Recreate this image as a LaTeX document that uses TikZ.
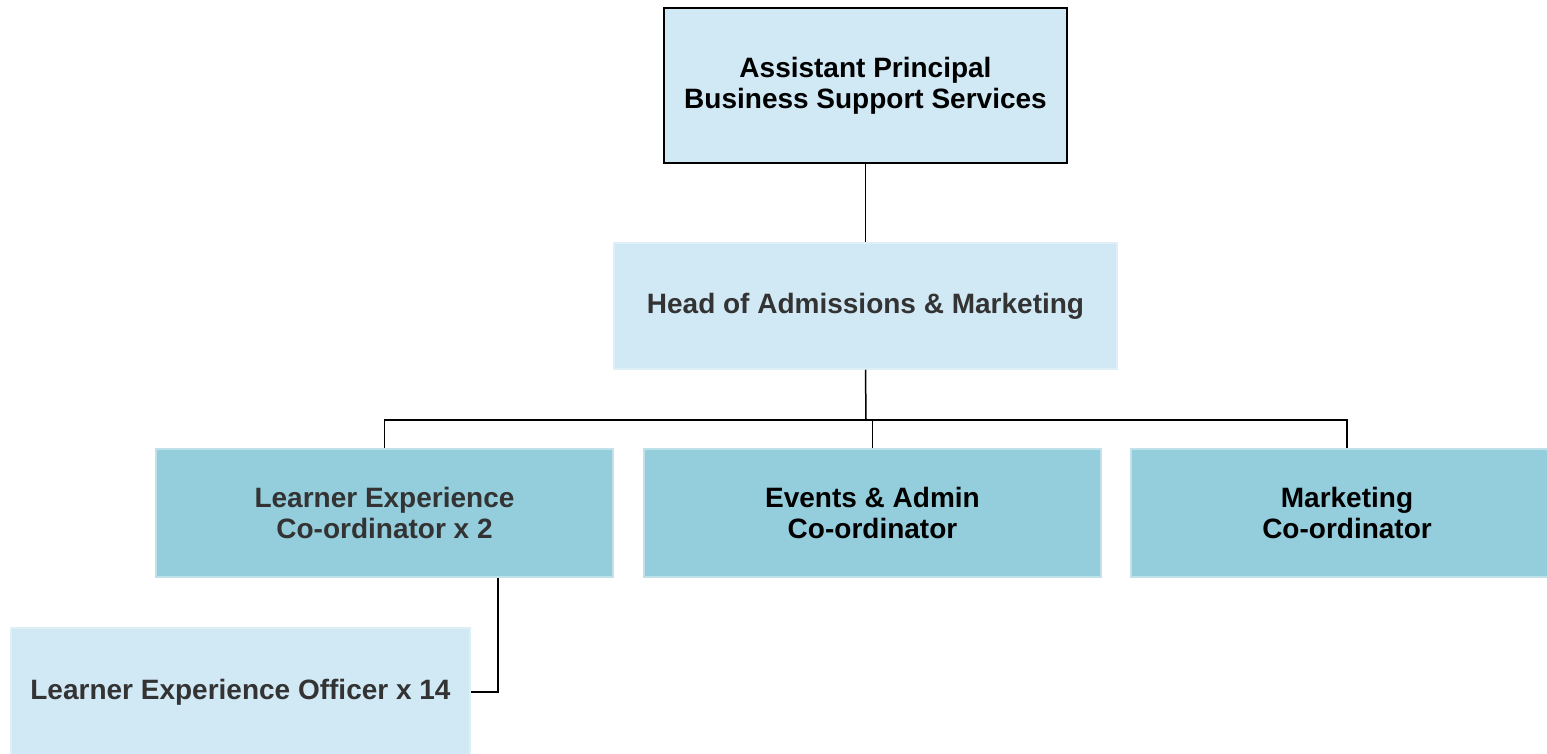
\documentclass[tikz,border=0pt]{standalone}
\usepackage{fontspec}
\setmainfont{Liberation Sans}
\definecolor{paleblue}{HTML}{D1E8F5}
\definecolor{tealblue}{HTML}{94CDDC}
\definecolor{darktext}{HTML}{333333}

\begin{document}
\begin{tikzpicture}[x=0.5pt, y=-0.5pt, line width=0.75pt]
    \tikzstyle{role}=[align=center, font=\fontsize{14}{15.5}\selectfont\bfseries,
      inner sep=0pt, minimum height=64pt]
    \tikzstyle{senior}=[role, fill=paleblue, draw=paleblue!70!white]
    \tikzstyle{coord}=[role, fill=tealblue, draw=tealblue!60!white,
      minimum width=228.5pt]
    \useasboundingbox (0,0) rectangle (1547,754);
    \clip (0,0) rectangle (1547,754);
    \draw (865.5,85.5) node[role, fill=paleblue, draw=black, minimum width=201.5pt,
      minimum height=77.5pt] (AP) {Assistant Principal\\Business Support Services};
    \draw (865.5,306) node[senior, text=darktext, minimum width=251.5pt,
      minimum height=63pt] (HAM) {Head of Admissions \& Marketing};
    \draw (384.5,513) node[coord, text=darktext] (LEC)
      {Learner Experience\\Co-ordinator x 2};
    \draw (872.5,513) node[coord] (EAC) {Events \& Admin\\Co-ordinator};
    \draw (1347,513) node[coord, minimum width=216pt] (MC)
      {Marketing\\Co-ordinator};
    \draw (240.5,692) node[senior, text=darktext, minimum width=229.5pt] (LEO)
      {Learner Experience Officer x 14};
    \coordinate (bus) at (866,420);
    \draw (AP.south) -- (HAM.north);
    \draw (HAM.south) -- (bus);
    \draw (LEC.north) |- (bus) -| (MC.north);
    \draw (EAC.north) -- (EAC.north |- bus);
    \draw[line width=1pt] ([xshift=56.75pt]LEC.south) |- (LEO.east);
  \end{tikzpicture}
\end{document}
